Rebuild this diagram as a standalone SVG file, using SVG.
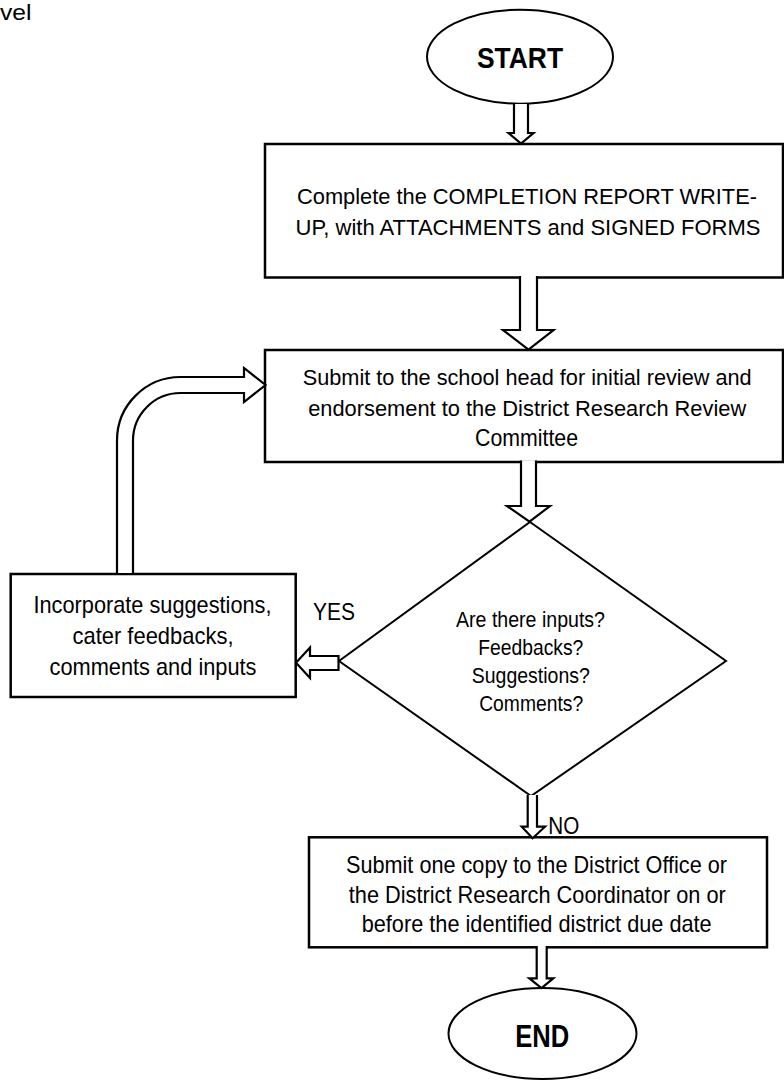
<svg xmlns="http://www.w3.org/2000/svg" width="784" height="1080" viewBox="0 0 784 1080">
<style>
  .box { fill: #ffffff; stroke: #000000; stroke-width: 2.5; }
  .term { fill: #ffffff; stroke: #000000; stroke-width: 2; }
  .dec { fill: #ffffff; stroke: #000000; stroke-width: 2; }
  .arr { fill: #ffffff; stroke: #000000; stroke-width: 2.2; stroke-linejoin: miter; }
  text { font-family: "Liberation Sans", Arial, sans-serif; fill: #000000; }
  .t { font-size: 24px; text-anchor: middle; }
  .tl { font-size: 22px; text-anchor: middle; }
  .d { font-size: 22px; text-anchor: middle; }
  .b { font-size: 30px; font-weight: bold; text-anchor: middle; }
  .lbl { font-size: 24px; }
</style>
<rect x="0" y="0" width="784" height="1080" fill="#ffffff"/>
<text x="0" y="19.5" style="font-size:21.5px" textLength="31.5" lengthAdjust="spacingAndGlyphs">vel</text>

<g id="start">
  <ellipse class="term" cx="520" cy="56.7" rx="93" ry="47"/>
  <text class="b" x="520" y="68" textLength="86" lengthAdjust="spacingAndGlyphs">START</text>
</g>

<g id="completion">
  <rect class="box" x="265" y="144" width="518" height="133.5"/>
  <text class="tl" x="527" y="204" textLength="460" lengthAdjust="spacingAndGlyphs">Complete the COMPLETION REPORT WRITE-</text>
  <text class="tl" x="528" y="234.5" textLength="465" lengthAdjust="spacingAndGlyphs">UP, with ATTACHMENTS and SIGNED FORMS</text>
</g>

<g id="submit-head">
  <rect class="box" x="265" y="350" width="518" height="112"/>
  <text class="tl" x="527.2" y="385" textLength="449" lengthAdjust="spacingAndGlyphs">Submit to the school head for initial review and</text>
  <text class="tl" x="527.2" y="416" textLength="438" lengthAdjust="spacingAndGlyphs">endorsement to the District Research Review</text>
  <text class="t" x="526.5" y="446" textLength="103" lengthAdjust="spacingAndGlyphs">Committee</text>
</g>

<g id="decision">
  <polygon class="dec" points="530,522 726,661 531,796 339,661"/>
  <text class="d" x="530.5" y="626.5" textLength="149" lengthAdjust="spacingAndGlyphs">Are there inputs?</text>
  <text class="d" x="530.8" y="654.5" textLength="105" lengthAdjust="spacingAndGlyphs">Feedbacks?</text>
  <text class="d" x="530.8" y="682.5" textLength="118" lengthAdjust="spacingAndGlyphs">Suggestions?</text>
  <text class="d" x="531.2" y="711" textLength="104" lengthAdjust="spacingAndGlyphs">Comments?</text>
</g>

<g id="incorporate">
  <rect class="box" x="10.7" y="574" width="285" height="123"/>
  <text class="t" x="152.5" y="613.3" textLength="238" lengthAdjust="spacingAndGlyphs">Incorporate suggestions,</text>
  <text class="t" x="153" y="643.8" textLength="161" lengthAdjust="spacingAndGlyphs">cater feedbacks,</text>
  <text class="t" x="153" y="675" textLength="207" lengthAdjust="spacingAndGlyphs">comments and inputs</text>
</g>

<g id="submit-district">
  <rect class="box" x="309" y="837.3" width="458" height="110"/>
  <text class="t" x="536.5" y="873.3" textLength="381" lengthAdjust="spacingAndGlyphs">Submit one copy to the District Office or</text>
  <text class="t" x="537.3" y="902.5" textLength="377" lengthAdjust="spacingAndGlyphs">the District Research Coordinator on or</text>
  <text class="t" x="536.7" y="931.7" textLength="350" lengthAdjust="spacingAndGlyphs">before the identified district due date</text>
</g>

<g id="end">
  <ellipse class="term" cx="542.5" cy="1033.5" rx="94" ry="45.5"/>
  <text class="b" x="542.2" y="1046.7" style="font-size:31px" textLength="54" lengthAdjust="spacingAndGlyphs">END</text>
</g>

<g id="connectors">
  <path class="arr" d="M514,104 V133 H508.5 L521,143.5 L533.5,133 H528 V104"/>
  <path class="arr" d="M520,276 V330 H503 L528.5,349.5 L553.5,330 H537 V276"/>
  <path class="arr" d="M521,460.5 V506 H507 L529.5,521.7 L550,506 H536 V460.5"/>
  <path class="arr" d="M338.5,656 H310 V647.5 L296,662.8 L310,678 V670 H338.5 Z"/>
  <path class="arr" d="M527.7,795 V826.7 H521.7 L532.6,838.3 L545,826.7 H537 V795"/>
  <path class="arr" d="M536.7,946 V978.3 H529.3 L541.5,988 L553.3,978.3 H546.7 V946"/>
  <path class="arr" d="M117,574 V440.5 A63.5,63.5 0 0 1 180.5,377 H244 V368 L265.5,385 L244,402 V393 H180.5 A47.5,47.5 0 0 0 133,440.5 V574 Z"/>
  <text class="lbl" x="313" y="620" textLength="42" lengthAdjust="spacingAndGlyphs">YES</text>
  <text class="lbl" x="548.3" y="834.3" textLength="31" lengthAdjust="spacingAndGlyphs">NO</text>
</g>
</svg>
